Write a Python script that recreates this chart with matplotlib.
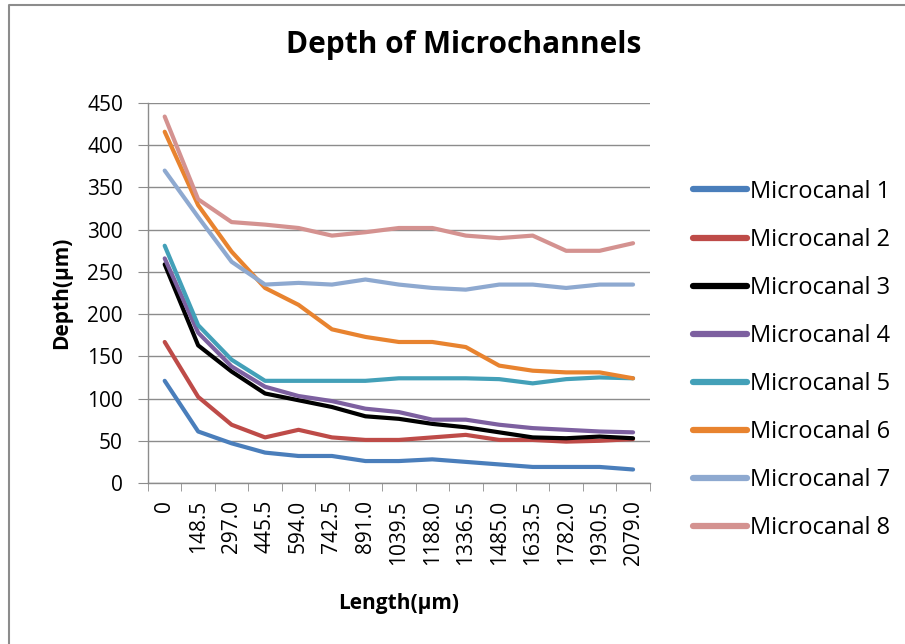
import numpy as np
import matplotlib
matplotlib.use("Agg")
import matplotlib.pyplot as plt
from matplotlib.lines import Line2D

# category labels along the channel (µm)
lengths = ['0', '148.5', '297.0', '445.5', '594.0', '742.5', '891.0', '1039.5',
           '1188.0', '1336.5', '1485.0', '1633.5', '1782.0', '1930.5', '2079.0']

mc1 = [121, 61, 47, 36, 32, 32, 26, 26, 28, 25, 22, 19, 19, 19, 16]
mc2 = [167, 102, 69, 54, 63, 54, 51, 51, 54, 57, 51, 51, 49, 50, 52]
mc3 = [259, 163, 132, 106, 98, 90, 79, 76, 70, 66, 60, 54, 53, 55, 53]
mc4 = [266, 178, 138, 114, 103, 97, 88, 84, 75, 75, 69, 65, 63, 61, 60]
mc5 = [281, 187, 146, 121, 121, 121, 121, 124, 124, 124, 123, 118, 123, 125, 124]
mc6 = [416, 329, 274, 231, 211, 182, 173, 167, 167, 161, 139, 133, 131, 131, 124]
mc7 = [370, 315, 262, 235, 237, 235, 241, 235, 231, 229, 235, 235, 231, 235, 235]
mc8 = [434, 336, 309, 306, 302, 293, 297, 302, 302, 293, 290, 293, 275, 275, 284]

series = [mc1, mc2, mc3, mc4, mc5, mc6, mc7, mc8]
names = ['Microcanal %d' % (i + 1) for i in range(8)]
colors = ['#4A7EBB', '#BE4B48', '#000000', '#7D60A0',
          '#43A0B8', '#E8832F', '#8EA9D0', '#D49290']

plt.rcParams['font.family'] = ['Open Sans', 'DejaVu Sans']

fig = plt.figure(figsize=(9.05, 6.44), dpi=100)
# chart-area frame (only top and left edges are visible in the original)
fig.lines.append(Line2D([9 / 905, 9 / 905, 1], [0, 1 - 5 / 644, 1 - 5 / 644],
                        transform=fig.transFigure, color='#8c8c8c', linewidth=1.5))
ax = fig.add_axes([0.1635, 0.25, 0.5545, 0.59])

x = np.arange(len(lengths))
for vals, name, c in zip(series, names, colors):
    ax.plot(x, vals, color=c, linewidth=3, label=name, solid_capstyle='round')

ax.set_xlim(-0.5, len(lengths) - 0.5)
ax.set_ylim(0, 450)
ax.set_yticks(range(0, 451, 50))
ax.yaxis.grid(True, color='#8c8c8c', linewidth=1)
ax.set_axisbelow(True)

ax.set_xticks(x)
ax.set_xticklabels(lengths, rotation=90, fontsize=15)
ax.set_xticks(np.arange(-0.5, len(lengths)), minor=True)
ax.tick_params(axis='x', which='major', length=0, pad=12)
ax.tick_params(axis='x', which='minor', length=6, color='#8c8c8c')
ax.tick_params(axis='y', length=7, color='#8c8c8c', labelsize=15, pad=11)

for s in ['top', 'right']:
    ax.spines[s].set_visible(False)
for s in ['left', 'bottom']:
    ax.spines[s].set_color('#8c8c8c')
    ax.spines[s].set_linewidth(1)

ax.set_xlabel('Length(µm)', fontsize=15, fontweight='bold', labelpad=20)
ax.set_ylabel('Depth(µm)', fontsize=15, fontweight='bold', labelpad=11)
fig.text(0.512, 1 - 53 / 644, 'Depth of Microchannels', ha='center', va='baseline',
         fontsize=21.5, fontweight='bold')

leg = ax.legend(loc='center left', bbox_to_anchor=(681 / 905, 1 - 360 / 644),
                bbox_transform=fig.transFigure, frameon=False, borderpad=0,
                fontsize=17, handlelength=2.3, handletextpad=0.12, labelspacing=1.02)
for h in leg.get_lines():
    h.set_linewidth(4.5)

fig.savefig('out.png', dpi=100)
